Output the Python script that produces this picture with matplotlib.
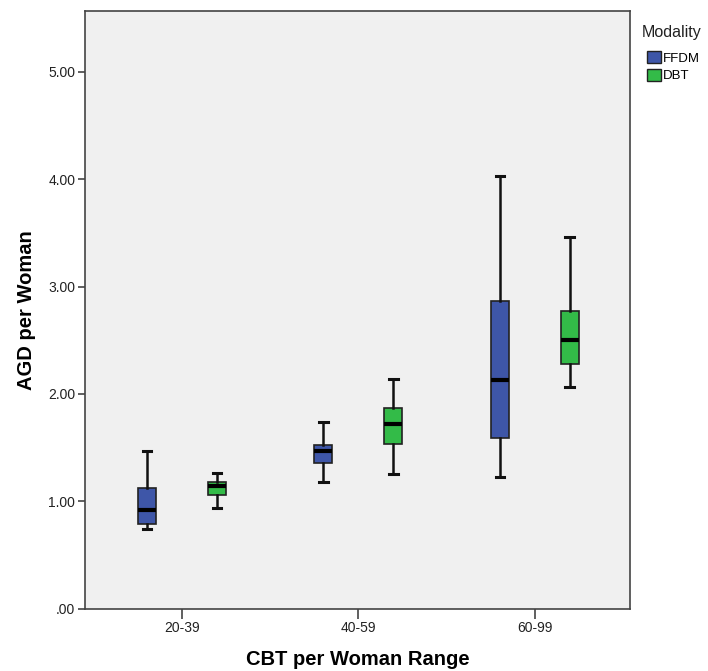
import matplotlib
matplotlib.use("Agg")
import matplotlib.pyplot as plt
from matplotlib.patches import Patch

plt.rcParams['font.family'] = ['Liberation Sans', 'DejaVu Sans']

categories = ["20-39", "40-59", "60-99"]
series = ["FFDM", "DBT"]
colors = {"FFDM": "#3E56A8", "DBT": "#33BB48"}

# five-number summaries per category: [low whisker, Q1, median, Q3, high whisker]
ffdm_low = [0.74, 1.18, 1.23]
ffdm_q1 = [0.79, 1.36, 1.59]
ffdm_med = [0.92, 1.47, 2.13]
ffdm_q3 = [1.12, 1.52, 2.87]
ffdm_high = [1.47, 1.74, 4.03]

dbt_low = [0.94, 1.25, 2.06]
dbt_q1 = [1.06, 1.53, 2.28]
dbt_med = [1.14, 1.72, 2.50]
dbt_q3 = [1.18, 1.87, 2.77]
dbt_high = [1.26, 2.14, 3.46]

y_ticks = [0, 1, 2, 3, 4, 5]
y_ticklabels = [".00", "1.00", "2.00", "3.00", "4.00", "5.00"]

data = {
    "FFDM": (ffdm_low, ffdm_q1, ffdm_med, ffdm_q3, ffdm_high),
    "DBT": (dbt_low, dbt_q1, dbt_med, dbt_q3, dbt_high),
}

fig = plt.figure(figsize=(7.08, 6.71), dpi=100)
ax = fig.add_axes([0.120, 0.093, 0.770, 0.891])
ax.set_facecolor("#F0F0F0")

offsets = {"FFDM": -0.198, "DBT": 0.198}
for s in series:
    lo, q1, med, q3, hi = data[s]
    stats = []
    for i in range(len(categories)):
        stats.append(dict(whislo=lo[i], q1=q1[i], med=med[i], q3=q3[i],
                          whishi=hi[i], fliers=[]))
    pos = [i + offsets[s] for i in range(len(categories))]
    ax.bxp(stats, positions=pos, widths=0.102, patch_artist=True,
           showfliers=False, manage_ticks=False,
           boxprops=dict(facecolor=colors[s], edgecolor="#222222", linewidth=1.2),
           medianprops=dict(color="black", linewidth=3),
           whiskerprops=dict(color="#111111", linewidth=1.8),
           capprops=dict(color="#111111", linewidth=2.2),
           capwidths=0.05)

ax.set_xlim(-0.55, 2.54)
ax.set_ylim(0, 5.57)
ax.set_xticks(range(len(categories)))
ax.set_xticklabels(categories, fontsize=10, color="#222222")
ax.set_yticks(y_ticks)
ax.set_yticklabels(y_ticklabels, fontsize=10, color="#222222")
ax.tick_params(axis='x', length=7, width=1.2, color="#444444", pad=2)
ax.tick_params(axis='y', length=5, width=1.2, color="#444444", pad=2)
for sp in ax.spines.values():
    sp.set_color("#444444")
    sp.set_linewidth(1.2)

ax.set_xlabel("CBT per Woman Range", fontsize=14.5, fontweight="bold", labelpad=11)
ax.set_ylabel("AGD per Woman", fontsize=14.5, fontweight="bold", labelpad=9)

fig.text(642 / 708, 1 - 33 / 671, "Modality", fontsize=11.5, color="#222222",
         ha="left", va="center")
handles = [Patch(facecolor=colors[s], edgecolor="#222222", label=s) for s in series]
leg = fig.legend(handles=handles, loc="upper left",
                 bbox_to_anchor=(647 / 708, 1 - 51 / 671), frameon=False, fontsize=9.5,
                 handlelength=1.05, handleheight=1.05,
                 handletextpad=0.15, labelspacing=0.3, borderaxespad=0, borderpad=0)

fig.savefig("out.png", dpi=100)
